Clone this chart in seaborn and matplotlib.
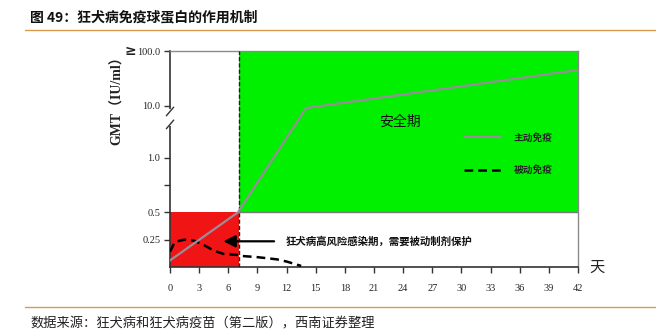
import numpy as np
import pandas as pd
import matplotlib
matplotlib.use("Agg")
import matplotlib.pyplot as plt
from matplotlib.lines import Line2D
import seaborn as sns

# ---- data ----
title = "图 49：狂犬病免疫球蛋白的作用机制"
source = "数据来源：狂犬病和狂犬病疫苗（第二版），西南证券整理"
active_days = [0, 7, 14, 42]
active_gmt = [0.06, 0.5, 9.0, 45.0]
passive_days = [0, 0.5, 1.5, 2.5, 3.5, 4.5, 5.5, 7.0, 7.5, 9, 11, 12, 13.5]
passive_gmt = [0.14, 0.23, 0.25, 0.24, 0.2, 0.15, 0.12, 0.11, 0.10, 0.09, 0.07, 0.05, 0.01]
passive_segment = [1, 1, 1, 1, 1, 1, 1, 1, 2, 2, 2, 2, 2]
x_ticks = list(range(0, 43, 3))
y_ticks = [0.25, 0.5, 0.75, 1.0, 10.0, 100.0]
y_tick_labels = ["0.25", "0.5", "", "1.0", "10.0", "100.0"]
risk_end = 7.1
protect_level = 0.5
top_level = 100.0
legend_labels = ["主动免疫", "被动免疫"]
safe_label = "安全期"
risk_label = "狂犬病高风险感染期，需要被动制剂保护"
x_unit = "天"
y_label = "GMT（IU/ml）"

# ---- custom y scale (piecewise axis as in reference) ----
U_KNOTS = np.array([0, 0.25, 0.5, 1.0, 2.0, 3.0])
P_KNOTS = np.array([0, 1.0, 2.0, 4.0, 5.9, 7.9])

def fwd(v):
    v = np.asarray(v, dtype=float)
    u = np.where(v <= 1, v, 1 + np.log10(np.maximum(v, 1e-12)))
    return np.interp(u, U_KNOTS, P_KNOTS, left=0, right=7.9)

def inv(p):
    p = np.asarray(p, dtype=float)
    u = np.interp(p, P_KNOTS, U_KNOTS)
    return np.where(u <= 1, u, 10 ** (u - 1))

sns.set_theme(style="white")
plt.rcParams["font.family"] = ["Noto Sans CJK SC", "DejaVu Sans"]
serif = ["Liberation Serif", "Noto Sans CJK SC"]

fig = plt.figure(figsize=(6.6, 3.34), dpi=100)
ax = fig.add_axes([170 / 660, 1 - 267 / 334, (578 - 170) / 660, (267 - 51) / 334])
ax.set_yscale("function", functions=(fwd, inv))
ax.set_xlim(0, 42)
ax.set_ylim(0, top_level)

# regions
ax.fill_between([0, risk_end], 0, protect_level, color="#f01414", lw=0, zorder=1)
ax.fill_between([risk_end, 42], protect_level, top_level, color="#00f000", lw=0, zorder=1)
ax.plot([risk_end, 42], [protect_level, protect_level], color="#7a7a7a", lw=1, zorder=2)
ax.plot([risk_end, risk_end], [0, top_level], color="#222222", lw=1,
        ls=(0, (3, 1.5)), zorder=3)

df_a = pd.DataFrame({"day": active_days, "gmt": active_gmt})
df_p = pd.DataFrame({"day": passive_days, "gmt": passive_gmt, "seg": passive_segment})
sns.lineplot(data=df_a, x="day", y="gmt", ax=ax, color="#9a8c9a", lw=1.6,
             zorder=5, sort=False)
n_before = len(ax.get_lines())
sns.lineplot(data=df_p, x="day", y="gmt", units="seg", estimator=None, ax=ax,
             color="black", lw=1.8, zorder=4, sort=False)
for l in ax.get_lines()[n_before:]:
    l.set_linestyle((0, (3.5, 2)))

# spines
for s in ["top", "right"]:
    ax.spines[s].set_color("#8a8a8a")
    ax.spines[s].set_linewidth(1)
for s in ["left", "bottom"]:
    ax.spines[s].set_color("#333333")
    ax.spines[s].set_linewidth(1.2)

ax.set_xticks(x_ticks)
ax.set_xticklabels([str(t) for t in x_ticks], fontfamily=serif, fontsize=7.5)
ax.set_yticks(y_ticks)
ax.set_yticklabels(y_tick_labels, fontfamily=serif, fontsize=7.5)
ax.tick_params(axis="both", direction="out", length=4, width=1, color="#333333",
               left=True, bottom=True, pad=3)
ax.tick_params(axis="x", pad=8)
ax.set_xlabel("")
ax.set_ylabel("")

# ">=" marker near 100
ax.text(-0.097, 1.0, "≥", transform=ax.transAxes, fontsize=10, fontweight="bold",
        ha="center", va="center", fontfamily=["DejaVu Sans"], color="#222222",
        rotation=0)

# axis break marks
ax.plot([0, 0], [0.66, 0.72], transform=ax.transAxes, color="white", lw=3,
        clip_on=False, zorder=10)
for dy in (0.66, 0.72):
    ax.plot([-0.009, 0.009], [dy - 0.02, dy + 0.02], transform=ax.transAxes,
            color="#333333", lw=1, clip_on=False, zorder=11)

# texts
ax.text(23.7, 5.0, safe_label, fontsize=10, ha="center", va="center", color="#111111")
ax.annotate("", xy=(5.2, 0.235), xytext=(11.0, 0.235),
            arrowprops=dict(arrowstyle="-|>,head_length=0.6,head_width=0.3",
                            color="black", lw=1.6), zorder=6)
ax.text(11.9, 0.235, risk_label, fontsize=7.5, fontweight="bold", ha="left",
        va="center", color="#111111")
ax.text(43.2, 0, x_unit, fontsize=11, ha="left", va="center", color="#222222")

handles = [Line2D([], [], color="#9a8c9a", lw=1.6),
           Line2D([], [], color="black", lw=1.8, ls=(0, (3.5, 2)))]
leg = ax.legend(handles, legend_labels, loc="upper left",
                bbox_to_anchor=((455 - 170) / 408, (267 - 124) / 216),
                frameon=False, handlelength=3.8, handletextpad=1.3,
                labelspacing=2.3, prop={"family": "Noto Sans CJK SC",
                                        "size": 7, "weight": "bold"})

fig.text(117 / 660, 1 - 97 / 334, y_label, rotation=90, ha="center", va="center",
         fontsize=10, fontweight="bold", fontfamily=serif, color="#222222")

# header / footer
fig.text(30 / 660, 1 - 17 / 334, title, fontsize=10, fontweight="bold",
         ha="left", va="center", color="#111111")
fig.add_artist(Line2D([25 / 660, 655 / 660], [1 - 30 / 334] * 2, color="#d99a4a", lw=1))
fig.add_artist(Line2D([25 / 660, 655 / 660], [1 - 307 / 334] * 2, color="#d99a4a", lw=1))
fig.text(30 / 660, 1 - 324 / 334, source, fontsize=9.5, ha="left", va="center",
         color="#222222")

fig.savefig("out.png", dpi=100)
